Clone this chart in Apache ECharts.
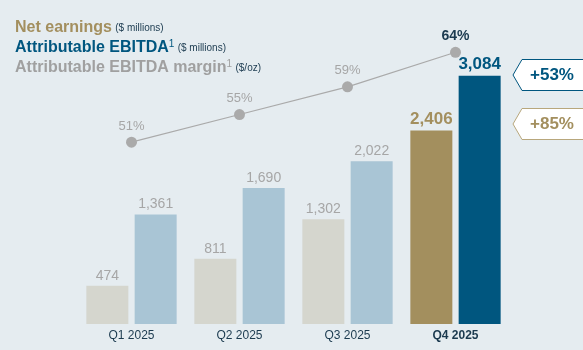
<!DOCTYPE html>
<html>
<head>
<meta charset="utf-8">
<script src="https://cdn.jsdelivr.net/npm/echarts@6/dist/echarts.min.js"></script>
<style>
  html, body { margin: 0; padding: 0; background: #e5ecf0; }
  #main { width: 583px; height: 350px; }
</style>
</head>
<body>
<div id="main"></div>
<script>
const quarters = ["Q1 2025", "Q2 2025", "Q3 2025", "Q4 2025"];
const netEarnings = [474, 811, 1302, 2406];
const ebitda = [1361, 1690, 2022, 3084];
const margin = [51, 55, 59, 64];

const font = "Liberation Sans, Arial, sans-serif";
const gold = "#a38f5e";
const navy = "#00567f";
const greyText = "#a6a6a6";

const last = quarters.length - 1;

const netData = netEarnings.map((v, i) => ({
  value: v,
  itemStyle: { color: i === last ? gold : "#d5d6ce" },
  label: i === last
    ? { color: gold, fontWeight: "bold", fontSize: 17 }
    : { color: greyText, fontSize: 14 },
}));

const ebitdaData = ebitda.map((v, i) => ({
  value: v,
  itemStyle: { color: i === last ? navy : "#a9c5d5" },
  label: i === last
    ? { color: navy, fontWeight: "bold", fontSize: 17 }
    : { color: greyText, fontSize: 14 },
}));

const marginData = margin.map((v, i) => ({
  value: v,
  label: i === last
    ? { color: "#1b3a4f", fontWeight: "bold", fontSize: 14 }
    : { color: greyText, fontSize: 13 },
}));

const myChart = echarts.init(document.getElementById("main"));
myChart.setOption({
  backgroundColor: "#e5ecf0",
  textStyle: { fontFamily: font },
  animation: false,
  grid: { left: 77.5, width: 432, top: 44, bottom: 26 },
  xAxis: {
    type: "category",
    data: quarters,
    axisLine: { show: false },
    axisTick: { show: false },
    axisLabel: {
      margin: 6,
      fontSize: 12,
      fontFamily: font,
      color: "#1b3a4f",
      formatter: (v) => (v === quarters[last] ? "{b|" + v + "}" : v),
      rich: { b: { fontWeight: "bold", fontSize: 12, color: "#1b3a4f", fontFamily: font } },
    },
  },
  yAxis: [
    { type: "value", min: 0, max: 3480, show: false },
    { type: "value", min: 24.7, max: 65.2, show: false },
  ],
  series: [
    {
      name: "Net earnings",
      type: "bar",
      barWidth: 42,
      barGap: "15%",
      data: netData,
      label: {
        show: true,
        position: "top",
        distance: 3,
        fontFamily: font,
        formatter: (p) => p.value.toLocaleString("en-US"),
      },
    },
    {
      name: "Attributable EBITDA",
      type: "bar",
      barWidth: 42,
      data: ebitdaData,
      label: {
        show: true,
        position: "top",
        distance: 3,
        fontFamily: font,
        formatter: (p) => p.value.toLocaleString("en-US"),
      },
    },
    {
      name: "Attributable EBITDA margin",
      type: "line",
      yAxisIndex: 1,
      data: marginData,
      symbol: "circle",
      symbolSize: 11,
      itemStyle: { color: "#aaaaaa" },
      lineStyle: { color: "#aaaaaa", width: 1.2 },
      label: {
        show: true,
        position: "top",
        distance: 4,
        fontFamily: font,
        formatter: (p) => p.value + "%",
      },
      z: 5,
    },
  ],
  graphic: [
    {
      type: "text",
      left: 15,
      top: 20,
      style: {
        text: "{a|Net earnings} {s|($ millions)}",
        rich: {
          a: { fontSize: 16, fontWeight: "bold", fill: gold, fontFamily: font },
          s: { fontSize: 10, fill: "#1b3a4f", fontFamily: font },
        },
      },
    },
    {
      type: "text",
      left: 15,
      top: 39,
      style: {
        text: "{a|Attributable EBITDA}{sup|1} {s|($ millions)}",
        rich: {
          a: { fontSize: 16, fontWeight: "bold", fill: navy, fontFamily: font },
          sup: { fontSize: 10, fill: navy, fontFamily: font, padding: [0, 0, 8, 0] },
          s: { fontSize: 10, fill: "#1b3a4f", fontFamily: font },
        },
      },
    },
    {
      type: "text",
      left: 15,
      top: 59,
      style: {
        text: "{a|Attributable EBITDA margin}{sup|1} {s|($/oz)}",
        rich: {
          a: { fontSize: 16, fontWeight: "bold", fill: "#a0a0a0", fontFamily: font },
          sup: { fontSize: 10, fill: "#a0a0a0", fontFamily: font, padding: [0, 0, 8, 0] },
          s: { fontSize: 10, fill: "#1b3a4f", fontFamily: font },
        },
      },
    },
    {
      type: "polygon",
      shape: { points: [[513, 75], [522, 59.5], [590, 59.5], [590, 90.5], [522, 90.5]] },
      style: { fill: "#ffffff", stroke: navy, lineWidth: 1 },
    },
    {
      type: "text",
      x: 552,
      y: 75,
      style: {
        text: "+53%",
        fill: navy,
        fontSize: 17,
        fontWeight: "bold",
        fontFamily: font,
        align: "center",
        verticalAlign: "middle",
      },
    },
    {
      type: "polygon",
      shape: { points: [[513, 124], [522, 108.5], [590, 108.5], [590, 139.5], [522, 139.5]] },
      style: { fill: "#ffffff", stroke: "#b8a77c", lineWidth: 1 },
    },
    {
      type: "text",
      x: 552,
      y: 124,
      style: {
        text: "+85%",
        fill: gold,
        fontSize: 17,
        fontWeight: "bold",
        fontFamily: font,
        align: "center",
        verticalAlign: "middle",
      },
    },
  ],
});
</script>
</body>
</html>
